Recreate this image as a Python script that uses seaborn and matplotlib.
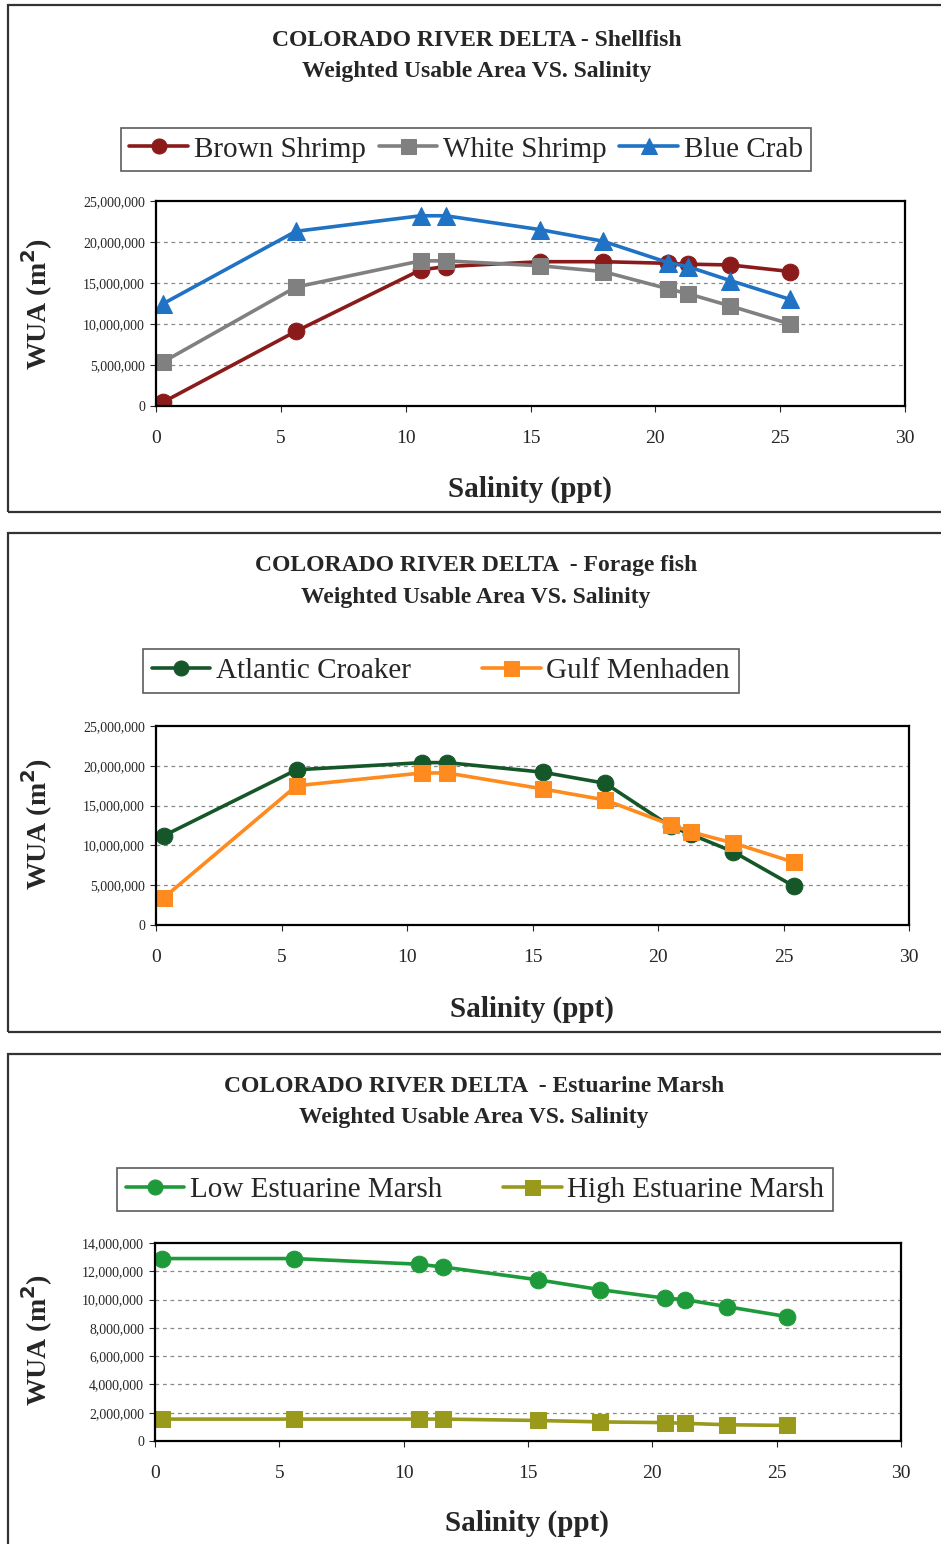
import seaborn as sns
import pandas as pd
import matplotlib.pyplot as plt
from matplotlib.patches import Rectangle
from matplotlib.ticker import FuncFormatter

# salinity (ppt) at each sample point
salinity = [0.3, 5.6, 10.6, 11.6, 15.4, 17.9, 20.5, 21.3, 23.0, 25.4]

# shellfish WUA (m2)
brown_shrimp = [0.5e6, 9.1e6, 16.6e6, 17.0e6, 17.6e6, 17.6e6, 17.4e6, 17.3e6, 17.2e6, 16.4e6]
white_shrimp = [5.4e6, 14.5e6, 17.7e6, 17.7e6, 17.1e6, 16.4e6, 14.3e6, 13.7e6, 12.2e6, 10.0e6]
blue_crab = [12.5e6, 21.3e6, 23.2e6, 23.2e6, 21.5e6, 20.1e6, 17.5e6, 17.0e6, 15.3e6, 13.0e6]

# forage fish WUA (m2)
atlantic_croaker = [11.2e6, 19.5e6, 20.4e6, 20.4e6, 19.2e6, 17.8e6, 12.4e6, 11.4e6, 9.2e6, 4.9e6]
gulf_menhaden = [3.4e6, 17.5e6, 19.1e6, 19.1e6, 17.1e6, 15.7e6, 12.6e6, 11.7e6, 10.3e6, 7.9e6]

# estuarine marsh WUA (m2)
low_marsh = [12.9e6, 12.9e6, 12.5e6, 12.3e6, 11.4e6, 10.7e6, 10.1e6, 10.0e6, 9.5e6, 8.8e6]
high_marsh = [1.55e6, 1.55e6, 1.55e6, 1.55e6, 1.45e6, 1.35e6, 1.3e6, 1.25e6, 1.15e6, 1.1e6]

sns.set_style("white")
plt.rcParams['font.family'] = ['Liberation Serif', 'DejaVu Serif']

W, H = 941, 1544
fig = plt.figure(figsize=(W / 100, H / 100), dpi=100)
fig.patch.set_facecolor('white')


def fx(px):
    return px / W


def fy(py):
    return 1 - py / H


panels = [
    dict(frame=(5, 512), ax=(156, 905, 201, 406), ymax=25e6, ystep=5e6,
         title=("COLORADO RIVER DELTA - Shellfish", 40, 72, 477),
         legend=(466, 149.5, 0.45), xlabel=(530, 489), ylabel=(37, 304),
         series=[("Brown Shrimp", brown_shrimp, '#8b1a1a', 'o'),
                 ("White Shrimp", white_shrimp, '#808080', 's'),
                 ("Blue Crab", blue_crab, '#1f72c4', '^')]),
    dict(frame=(533, 1032), ax=(156, 909, 726, 925), ymax=25e6, ystep=5e6,
         title=("COLORADO RIVER DELTA  - Forage fish", 566, 597, 476),
         legend=(441, 671, 2.45), xlabel=(532, 1009), ylabel=(37, 824),
         series=[("Atlantic Croaker", atlantic_croaker, '#16572a', 'o'),
                 ("Gulf Menhaden", gulf_menhaden, '#ff8a1e', 's')]),
    dict(frame=(1054, 1560), ax=(155, 901, 1243, 1441), ymax=14e6, ystep=2e6,
         title=("COLORADO RIVER DELTA  - Estuarine Marsh", 1086, 1117, 474),
         legend=(475, 1189.5, 2.1), xlabel=(527, 1523), ylabel=(37, 1340),
         series=[("Low Estuarine Marsh", low_marsh, '#1f9a3a', 'o'),
                 ("High Estuarine Marsh", high_marsh, '#99991c', 's')]),
]

fmt = FuncFormatter(lambda v, p: f"{int(v):,}")

for p in panels:
    top, bot = p['frame']
    fig.patches.append(Rectangle((fx(8), fy(bot)), fx(945) - fx(8), fy(top) - fy(bot),
                                 transform=fig.transFigure, fill=False,
                                 edgecolor='#333333', linewidth=1.6))
    l, r, t, b = p['ax']
    ax = fig.add_axes([fx(l), fy(b), fx(r) - fx(l), fy(t) - fy(b)])
    for name, vals, color, mk in p['series']:
        df = pd.DataFrame({'salinity': salinity, 'wua': vals})
        sns.lineplot(data=df, x='salinity', y='wua', ax=ax, color=color, marker=mk,
                     markersize=12 if mk != '^' else 13, markeredgecolor=color,
                     linewidth=2.6, label=name, sort=False)
    ax.set_xlim(0, 30)
    ax.set_ylim(0, p['ymax'])
    ax.set_xticks(range(0, 31, 5))
    yt = [i * p['ystep'] for i in range(int(round(p['ymax'] / p['ystep'])) + 1)]
    ax.set_yticks(yt)
    ax.yaxis.set_major_formatter(fmt)
    for v in yt[1:-1]:
        ax.axhline(v, color='#888888', linestyle=(0, (3, 3)), linewidth=0.9, zorder=0)
    for s in ax.spines.values():
        s.set_color('black')
        s.set_linewidth(1.6)
    ax.tick_params(axis='x', labelsize=14, length=4, pad=13, direction='out', bottom=True)
    ax.tick_params(axis='y', labelsize=10, length=4, pad=4, direction='out', left=True)
    ax.set_xlabel('')
    ax.set_ylabel('')

    t1, y1, y2, cx = p['title']
    fig.text(fx(cx), fy(y1), t1, ha='center', va='center', fontsize=17, fontweight='bold')
    fig.text(fx(cx), fy(y2), "Weighted Usable Area VS. Salinity", ha='center', va='center',
             fontsize=17, fontweight='bold')
    xlx, xly = p['xlabel']
    fig.text(fx(xlx), fy(xly), "Salinity (ppt)", ha='center', va='center',
             fontsize=21, fontweight='bold')
    ylx, yly = p['ylabel']
    fig.text(fx(ylx), fy(yly), r"WUA (m$^\mathbf{2}$)", ha='center', va='center',
             fontsize=20, fontweight='bold', rotation=90)

    lx, ly, cs = p['legend']
    leg = ax.legend(loc='center', bbox_to_anchor=(fx(lx), fy(ly)), bbox_transform=fig.transFigure,
                    ncol=len(p['series']), fontsize=21, frameon=True, fancybox=False,
                    edgecolor='#333333', handlelength=2.0, handletextpad=0.2,
                    columnspacing=cs, borderpad=0.3, markerscale=0.9)
    leg.get_frame().set_linewidth(1.2)

fig.savefig('out.png', dpi=100)
